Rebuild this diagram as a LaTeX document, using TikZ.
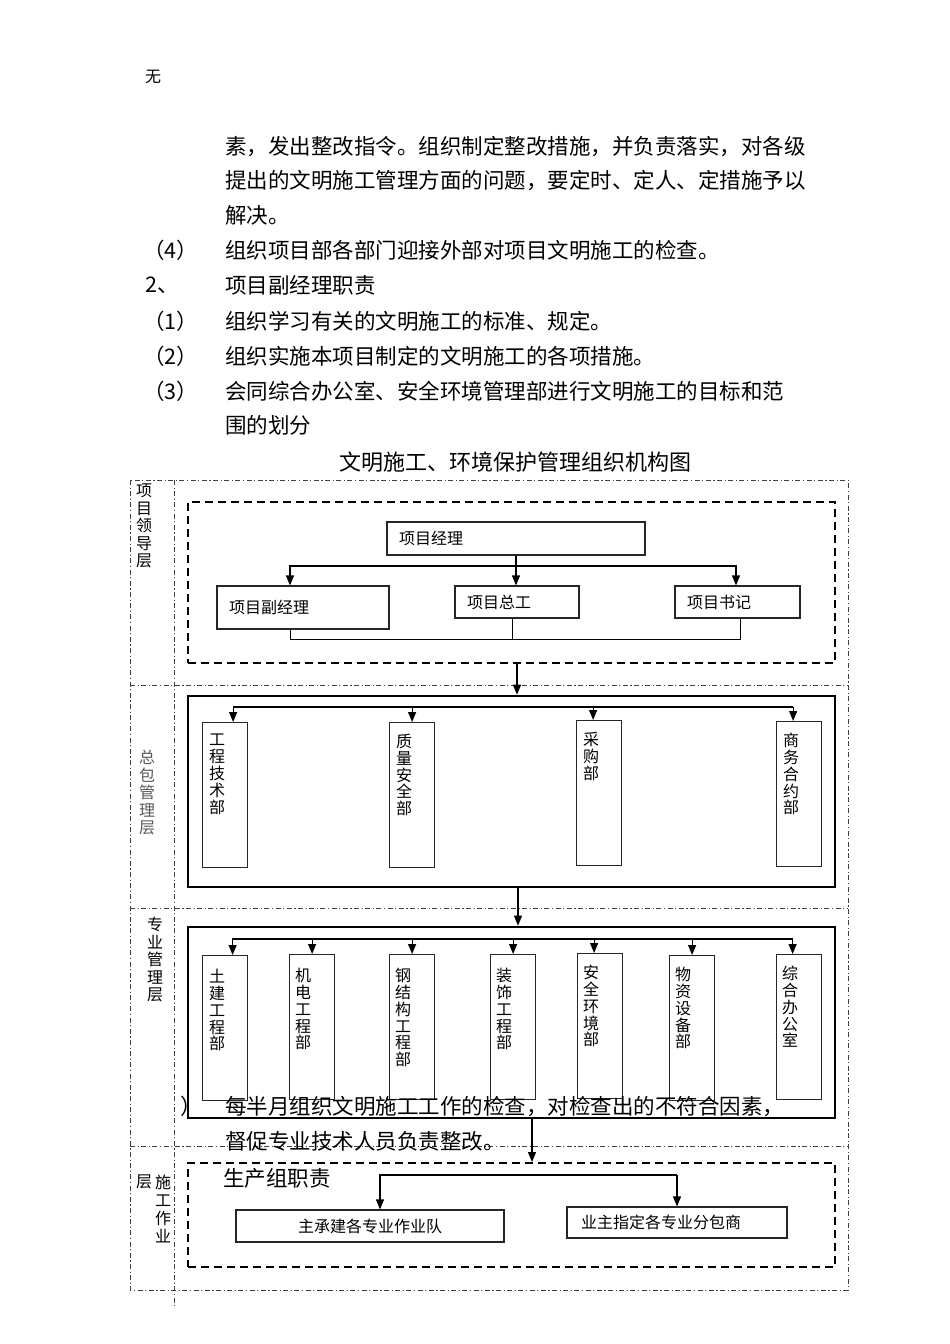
\documentclass[tikz,border=0pt]{standalone}
\usepackage{fontspec}
\setmainfont{Noto Sans CJK SC}
\usetikzlibrary{arrows.meta}

\begin{document}
\begin{tikzpicture}[
    x=1pt, y=-1pt,
    txt/.style={anchor=west, inner sep=0pt, font=\fontsize{21.5}{25}\selectfont},
    layer/.style={draw=black!75, line width=0.8pt, dash pattern=on 5pt off 2.5pt on 1.2pt off 2.5pt},
    lab/.style={anchor=north, inner sep=0pt, align=center, font=\fontsize{16}{17.5}\selectfont},
    grp/.style={draw, line width=2pt, dash pattern=on 8pt off 5pt},
    blk/.style={draw, line width=2.6pt},
    post/.style={rectangle, draw=black!85, line width=1.2pt, inner xsep=12pt, inner ysep=2pt, align=left, font=\fontsize{16}{18}\selectfont},
    dept/.style={rectangle, draw=black!85, line width=1.2pt, minimum width=45pt, minimum height=145pt, anchor=north west},
    vtxt/.style={anchor=north, inner sep=0pt, align=center, font=\fontsize{16}{16.8}\selectfont},
    arrow/.style={-{Triangle[width=8pt,length=10pt]}, line width=1.2pt}
]
    \fill[white] (0,0) rectangle (950,1344);
    \useasboundingbox (0,0) rectangle (950,1344);

    % 正文
    \node[txt, font=\fontsize{16}{18}\selectfont] (wu) at (145,77) {无};
    \node[txt] (p1) at (225,147) {素，发出整改指令。组织制定整改措施，并负责落实，对各级};
    \node[txt] (p2) at (225,181) {提出的文明施工管理方面的问题，要定时、定人、定措施予以};
    \node[txt] (p3) at (225,215) {解决。};
    \node[txt] (n4) at (143,250) {（4）};
    \node[txt] (p4) at (225,250) {组织项目部各部门迎接外部对项目文明施工的检查。};
    \node[txt] (n2) at (145,285) {2、};
    \node[txt] (p5) at (225,285) {项目副经理职责};
    \node[txt] (n1) at (143,321) {（1）};
    \node[txt] (p6) at (225,321) {组织学习有关的文明施工的标准、规定。};
    \node[txt] (nn2) at (143,356) {（2）};
    \node[txt] (p7) at (225,356) {组织实施本项目制定的文明施工的各项措施。};
    \node[txt] (n3) at (143,391) {（3）};
    \node[txt] (p8) at (225,391) {会同综合办公室、安全环境管理部进行文明施工的目标和范};
    \node[txt] (p9) at (225,425) {围的划分};
    \node[txt, font=\fontsize{22}{24}\selectfont] (title) at (339,462) {文明施工、环境保护管理组织机构图};

    % 分层框
    \draw[layer] (130,480) rectangle (848,1290);
    \draw[layer] (130,685) -- (848,685);
    \draw[layer] (130,908) -- (848,908);
    \draw[layer] (130,1146) -- (848,1146);
    \draw[layer] (174,480) -- (174,1308);
    \node[lab] (lay1) at (144,484) {项\\目\\领\\导\\层};
    \node[lab, text=black!65] (lay2) at (147,750) {总\\包\\管\\理\\层};
    \node[lab] (lay3) at (155,917) {专\\业\\管\\理\\层};
    \node[lab] (lay4a) at (144,1175) {层};
    \node[lab, font=\fontsize{16}{18}\selectfont] (lay4b) at (163,1175) {施\\工\\作\\业};

    % 项目领导层
    \node[grp, minimum width=647pt, minimum height=161pt] (g1) at (511.5,582.5) {};
    \node[post, text width=234pt, minimum height=33pt] (pm) at (516,538.5) {项目经理};
    \node[post, text width=148pt, minimum height=43pt] (vpm) at (303,607.5) {项目副经理};
    \node[post, text width=100pt, minimum height=32pt] (cen) at (517,602) {项目总工};
    \node[post, text width=101pt, minimum height=32pt] (sec) at (737.5,602) {项目书记};
    \coordinate (j1) at (516,566);
    \coordinate (j2) at (0,639);
    \draw[line width=1.2pt] (pm.south) -- (j1);
    \draw[arrow] (j1) -| ([xshift=-13pt]vpm.north);
    \draw[arrow] (j1) -| ([xshift=-1.5pt]sec.north);
    \draw[arrow] (j1) -- (cen.north -| j1);
    \draw[line width=1pt] ([xshift=-13pt]vpm.south) |- ([xshift=3pt]sec.south |- j2) -- ([xshift=3pt]sec.south);
    \draw[line width=1pt] ([xshift=-5pt]cen.south) -- ([xshift=-5pt]cen.south |- j2);

    % 总包管理层
    \node[blk, minimum width=647pt, minimum height=191pt] (g2) at (511.5,791.5) {};
    \node[dept] (gcjs) at (202,722) {};
    \node[dept] (zlaq) at (389,722) {};
    \node[dept] (cgb) at (576,720) {};
    \node[dept] (swhy) at (776,721) {};
    \node[vtxt] (gcjs-t) at ([xshift=15pt, yshift=-12pt]gcjs.north west) {工\\程\\技\\术\\部};
    \node[vtxt] (zlaq-t) at ([xshift=15pt, yshift=-12pt]zlaq.north west) {质\\量\\安\\全\\部};
    \node[vtxt] (cgb-t) at ([xshift=15pt, yshift=-12pt]cgb.north west) {采\\购\\部};
    \node[vtxt] (swhy-t) at ([xshift=15pt, yshift=-12pt]swhy.north west) {商\\务\\合\\约\\部};
    \coordinate (h2) at (0,707);
    \draw[arrow] ([xshift=-6pt]swhy.north |- h2) -| ([xshift=8pt]gcjs.north);
    \draw[arrow] (zlaq.north |- h2) -- (zlaq.north);
    \draw[arrow] ([xshift=-6pt]cgb.north |- h2) -- ([xshift=-6pt]cgb.north);
    \draw[arrow] ([xshift=-6pt]swhy.north |- h2) -- ([xshift=-6pt]swhy.north);
    \draw[arrow] ([xshift=5.5pt]g1.south) -- ([xshift=5.5pt]g2.north);

    % 专业管理层
    \node[blk, minimum width=647pt, minimum height=191pt] (g3) at (511.5,1022.5) {};
    \node[dept] (tjgc) at (202,955) {};
    \node[dept] (jdgc) at (289,954) {};
    \node[dept] (gjg) at (389,954) {};
    \node[dept] (zsgc) at (490,954) {};
    \node[dept] (aqhj) at (577,953) {};
    \node[dept] (wzsb) at (669,955) {};
    \node[dept] (zhbg) at (776,954) {};
    \node[vtxt] (tjgc-t) at ([xshift=15pt, yshift=-14pt]tjgc.north west) {土\\建\\工\\程\\部};
    \node[vtxt] (jdgc-t) at ([xshift=14pt, yshift=-14pt]jdgc.north west) {机\\电\\工\\程\\部};
    \node[vtxt] (gjg-t) at ([xshift=14pt, yshift=-14pt]gjg.north west) {钢\\结\\构\\工\\程\\部};
    \node[vtxt] (zsgc-t) at ([xshift=14pt, yshift=-14pt]zsgc.north west) {装\\饰\\工\\程\\部};
    \node[vtxt] (aqhj-t) at ([xshift=14pt, yshift=-12pt]aqhj.north west) {安\\全\\环\\境\\部};
    \node[vtxt] (wzsb-t) at ([xshift=14pt, yshift=-12pt]wzsb.north west) {物\\资\\设\\备\\部};
    \node[vtxt] (zhbg-t) at ([xshift=14pt, yshift=-12pt]zhbg.north west) {综\\合\\办\\公\\室};
    \coordinate (h3) at (0,939);
    \draw[arrow] ([xshift=-6.5pt]zhbg.north |- h3) -| ([xshift=7.5pt]tjgc.north);
    \draw[arrow] (jdgc.north |- h3) -- (jdgc.north);
    \draw[arrow] (gjg.north |- h3) -- (gjg.north);
    \draw[arrow] (zsgc.north |- h3) -- (zsgc.north);
    \draw[arrow] ([xshift=-6pt]aqhj.north |- h3) -- ([xshift=-6pt]aqhj.north);
    \draw[arrow] (wzsb.north |- h3) -- (wzsb.north);
    \draw[arrow] ([xshift=-6.5pt]zhbg.north |- h3) -- ([xshift=-6.5pt]zhbg.north);
    \draw[arrow] ([xshift=6.5pt]g2.south) -- ([xshift=6.5pt]g3.north);

    % 施工作业层
    \node[grp, minimum width=647pt, minimum height=104pt] (g4) at (511.5,1215) {};
    \node[post, text width=244pt, minimum height=32pt, align=center] (zcj) at (370,1226) {主承建各专业作业队};
    \node[post, inner xsep=14pt, text width=192pt, minimum height=31pt] (yzzd) at (677,1222.5) {业主指定各专业分包商};
    \coordinate (h4) at (0,1175);
    \draw[arrow] (yzzd.north |- h4) -| ([xshift=10pt]zcj.north);
    \draw[arrow] (yzzd.north |- h4) -- (yzzd.north);
    \draw[arrow] ([xshift=20.5pt]g3.south) -- ([xshift=20.5pt]g4.north);

    % 压在图上的正文
    \node[txt] (rp) at (180,1106) {）};
    \node[txt] (q1) at (225,1107) {每半月组织文明施工工作的检查，对检查出的不符合因素，};
    \node[txt] (q2) at (225,1141) {督促专业技术人员负责整改。};
    \node[txt] (q3) at (223,1178) {生产组职责};
\end{tikzpicture}
\end{document}
